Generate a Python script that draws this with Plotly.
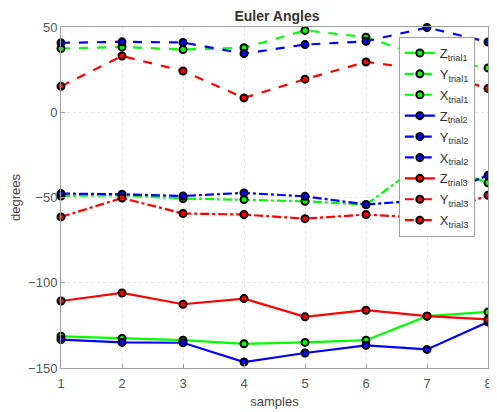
import plotly.graph_objects as go

samples = [1, 2, 3, 4, 5, 6, 7, 8]

z_trial1 = [-131.4, -132.7, -133.7, -135.8, -135.0, -133.7, -119.6, -117.1]
y_trial1 = [-49.1, -48.7, -50.6, -51.2, -52.2, -54.2, -28.0, -41.4]
x_trial1 = [37.4, 38.3, 36.8, 37.8, 48.0, 44.0, 32.0, 26.0]

z_trial2 = [-133.3, -135.0, -135.2, -146.5, -141.2, -136.7, -139.1, -123.0]
y_trial2 = [-47.7, -48.1, -49.1, -47.3, -49.3, -54.1, -51.5, -37.0]
x_trial2 = [40.7, 41.3, 40.9, 34.4, 39.7, 41.6, 49.7, 41.2]

z_trial3 = [-110.7, -106.0, -112.6, -109.3, -120.0, -116.1, -119.6, -121.5]
y_trial3 = [-61.4, -50.3, -59.4, -60.0, -62.4, -60.0, -62.0, -48.7]
x_trial3 = [15.2, 33.0, 24.2, 8.4, 19.4, 29.5, 25.0, 13.9]

series = [
    ("Z<sub>trial1</sub>", z_trial1, "#00ff00", "solid"),
    ("Y<sub>trial1</sub>", y_trial1, "#00ff00", "dashdot"),
    ("X<sub>trial1</sub>", x_trial1, "#00ff00", "dash"),
    ("Z<sub>trial2</sub>", z_trial2, "#0000ff", "solid"),
    ("Y<sub>trial2</sub>", y_trial2, "#0000ff", "dashdot"),
    ("X<sub>trial2</sub>", x_trial2, "#0000ff", "dash"),
    ("Z<sub>trial3</sub>", z_trial3, "#ff0000", "solid"),
    ("Y<sub>trial3</sub>", y_trial3, "#ff0000", "dashdot"),
    ("X<sub>trial3</sub>", x_trial3, "#ff0000", "dash"),
]

fig = go.Figure()
for i, (name, vals, color, dash) in enumerate(series):
    fig.add_trace(go.Scatter(
        x=samples, y=vals, name=name, mode="lines+markers",
        legendgroup=f"g{i}",
        line=dict(color=color, width=2.2, dash=dash),
        marker=dict(size=7, color=color, line=dict(color="black", width=2)),
        cliponaxis=False,
    ))

FONT = "Liberation Sans, Arial"
axis_common = dict(
    showline=True, linecolor="#a0a0a0", linewidth=1, mirror=True,
    showgrid=True, gridcolor="#e6e6e6", griddash="dot", gridwidth=1,
    zeroline=False, ticks="inside", ticklen=4, tickcolor="#a0a0a0",
    tickfont=dict(family=FONT, size=13, color="#555555"),
)

# page body has an 8px margin; the figure is sized to fit the 497x412 window
W, H = 489, 404
fig.update_layout(
    width=W, height=H,
    margin=dict(l=53, r=5, t=19, b=44),
    paper_bgcolor="white", plot_bgcolor="white",
    title=dict(text="<b>Euler Angles</b>", x=269 / W, xanchor="center",
               y=1 - 8 / H, yanchor="middle",
               font=dict(family=FONT, size=14, color="#333333")),
    xaxis=dict(range=[1, 8], tickvals=samples, ticklabelstandoff=3, **axis_common,
               title=dict(text="samples", standoff=7,
                          font=dict(family=FONT, size=13, color="#444444"))),
    yaxis=dict(range=[-150, 50], tickvals=[-150, -100, -50, 0, 50], **axis_common,
               title=dict(text="degrees", standoff=6,
                          font=dict(family=FONT, size=13, color="#444444"))),
    legend=dict(x=(394 - 53) / 431, y=(360 - 29) / 341, xanchor="left", yanchor="top",
                bgcolor="white", bordercolor="#a0a0a0", borderwidth=1,
                font=dict(family=FONT, size=13, color="#333333"),
                itemwidth=30, tracegroupgap=1),
    showlegend=True,
)

fig.write_html("out.html")
